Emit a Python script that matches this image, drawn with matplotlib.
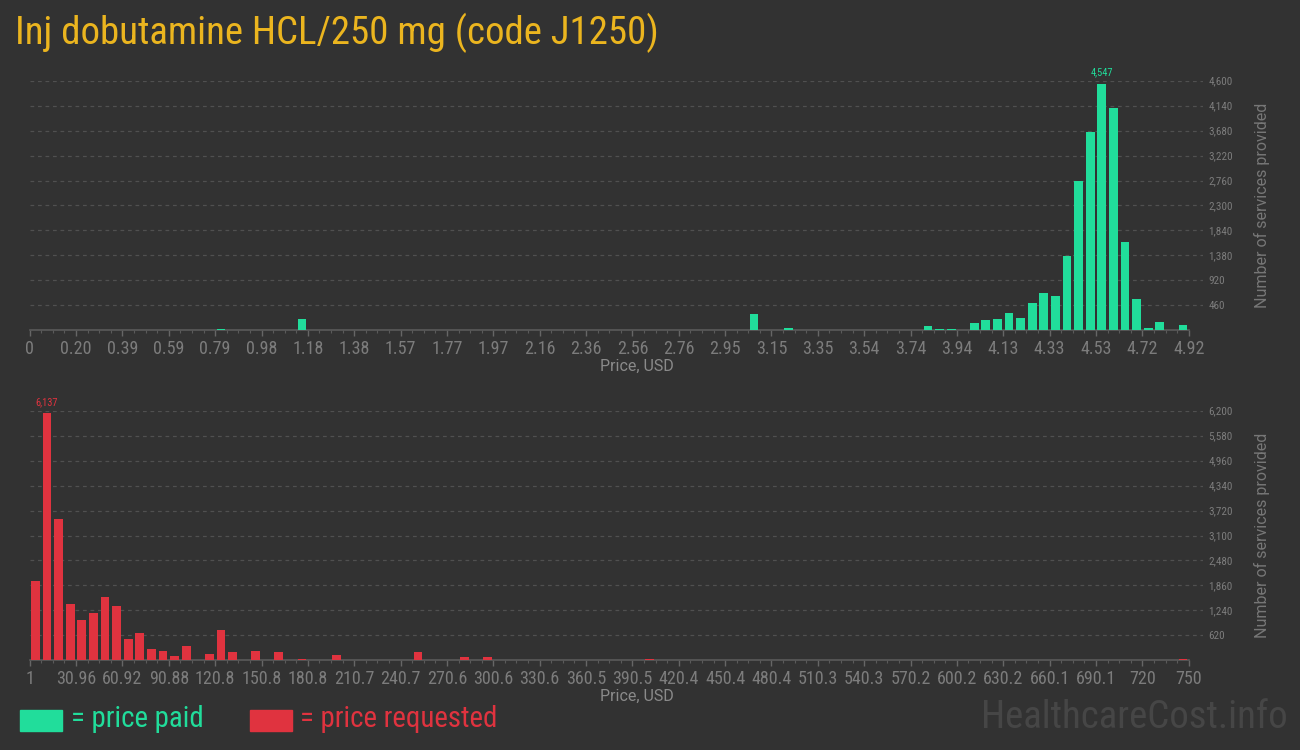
import numpy as np
import matplotlib
matplotlib.use("Agg")
import matplotlib.pyplot as plt
from matplotlib.patches import Rectangle
from matplotlib import font_manager

# ---------------- data ----------------
title = "Inj dobutamine HCL/250 mg (code J1250)"
n_bins = 100

paid_range = (0.0, 4.92)
paid_bins = [16, 23, 62, 65, 66, 71, 73, 77, 78, 79, 81, 82, 83, 84, 85, 86, 87, 88,
             89, 90, 91, 92, 93, 94, 95, 96, 97, 99]
paid_counts = [25, 208, 307, 49, 12, 12, 12, 86, 31, 31, 138, 196, 215, 325, 233, 503,
               694, 638, 1375, 2757, 3660, 4547, 4100, 1633, 583, 49, 160, 104]
paid_xlabels = ["0", "0.20", "0.39", "0.59", "0.79", "0.98", "1.18", "1.38", "1.57",
                "1.77", "1.97", "2.16", "2.36", "2.56", "2.76", "2.95", "3.15", "3.35",
                "3.54", "3.74", "3.94", "4.13", "4.33", "4.53", "4.72", "4.92"]
paid_yticks = [460, 920, 1380, 1840, 2300, 2760, 3220, 3680, 4140, 4600]

req_range = (1.0, 750.0)
req_bins = [0, 1, 2, 3, 4, 5, 6, 7, 8, 9, 10, 11, 12, 13, 14, 15, 16, 17, 19, 21, 23,
            25, 26, 33, 37, 39, 41, 48, 53, 57, 99]
req_counts = [1970, 6137, 3511, 1399, 1002, 1176, 1573, 1350, 530, 679, 282, 232, 108,
              356, 15, 157, 753, 207, 232, 207, 33, 12, 132, 215, 91, 91, 17, 17, 41,
              17, 41]
req_xlabels = ["1", "30.96", "60.92", "90.88", "120.8", "150.8", "180.8", "210.7",
               "240.7", "270.6", "300.6", "330.6", "360.5", "390.5", "420.4", "450.4",
               "480.4", "510.3", "540.3", "570.2", "600.2", "630.2", "660.1", "690.1",
               "720", "750"]
req_yticks = [620, 1240, 1860, 2480, 3100, 3720, 4340, 4960, 5580, 6200]

# ---------------- style ----------------
BG = "#323232"
GREEN = "#21dd9b"
RED = "#e0333f"
TXT = "#7c7c7c"
GRID = "#505050"

installed = {f.name for f in font_manager.fontManager.ttflist}
NARROW_FAMILY = next((n for n in ["Roboto Condensed", "Liberation Sans Narrow",
                                  "Open Sans Condensed", "Roboto"] if n in installed),
                     "DejaVu Sans")
NARROW = [NARROW_FAMILY, "DejaVu Sans"]
IS_COND = NARROW_FAMILY != "Roboto"

fig = plt.figure(figsize=(13, 7.5), dpi=100, facecolor=BG)

W, H = 1300.0, 750.0
left_px, right_px = 29.7, 1203.0
data_right_px = 1188.7


def make_panel(y_top_px, y_base_px, rng, bins, counts, xlabels, yticks, color):
    ax = fig.add_axes([left_px / W, 1 - y_base_px / H,
                       (right_px - left_px) / W, (y_base_px - y_top_px) / H])
    ax.set_facecolor(BG)
    lo, hi = rng
    w = (hi - lo) / n_bins
    extra = (hi - lo) * (right_px - data_right_px) / (data_right_px - left_px)
    ax.set_xlim(lo, hi + extra)
    ax.set_ylim(0, yticks[-1])
    centers = [lo + (b + 0.5) * w for b in bins]
    ax.bar(centers, counts, width=w * 0.76, color=color, zorder=3)
    # peak label
    k = int(np.argmax(counts))
    ax.text(centers[k], counts[k] + yticks[-1] * 0.025, f"{counts[k]:,}",
            ha="center", va="bottom", color=color, fontsize=7.5,
            family=NARROW, clip_on=False)
    # grid
    for yv in yticks:
        ax.axhline(yv, color=GRID, lw=0.9, ls=(0, (3, 3)), zorder=1)
    # spines
    for s in ["top", "right", "left"]:
        ax.spines[s].set_visible(False)
    ax.spines["bottom"].set_color("#5a5a5a")
    ax.spines["bottom"].set_linewidth(1.2)
    ax.spines["bottom"].set_bounds(lo, hi)
    # x ticks
    ax.set_xticks(np.linspace(lo, hi, len(xlabels)))
    ax.set_xticklabels(xlabels)
    ax.set_xticks(np.linspace(lo, hi, n_bins + 1), minor=True)
    ax.tick_params(axis="x", which="major", length=4, width=1, color="#666666",
                   labelcolor=TXT, labelsize=13 if IS_COND else 11, pad=3)
    ax.tick_params(axis="x", which="minor", length=2.5, width=0.8, color="#5a5a5a")
    for lab in ax.get_xticklabels():
        lab.set_family(NARROW)
    # y ticks on right
    ax.yaxis.tick_right()
    ax.set_yticks(yticks)
    ax.set_yticklabels([f"{v:,}" for v in yticks])
    ax.tick_params(axis="y", length=0, labelcolor=TXT, labelsize=8, pad=4)
    for lab in ax.get_yticklabels():
        lab.set_family(NARROW)
    ax.yaxis.set_label_position("right")
    ax.set_ylabel("Number of services provided", color="#777777", fontsize=11.5,
                  family="Roboto", labelpad=15)
    ax.set_xlabel("Price, USD", color="#8a8a8a", fontsize=11.5, family="Roboto",
                  labelpad=6)
    ax.xaxis.set_label_coords(((637 - left_px) / (right_px - left_px)), -0.115)
    return ax


ax1 = make_panel(80.7, 330.3, paid_range, paid_bins, paid_counts, paid_xlabels,
                 paid_yticks, GREEN)
ax2 = make_panel(410.7, 660.3, req_range, req_bins, req_counts, req_xlabels,
                 req_yticks, RED)

# title
fig.text(15 / W, 1 - 33 / H, title, color="#ebb51f",
         fontsize=28 if IS_COND else 25,
         family=NARROW, ha="left", va="center")

# legend
LEG_FS = 20.8 if IS_COND else 18.5
fig.patches.append(Rectangle((20 / W, 1 - 731 / H), 42 / W, 21 / H,
                             transform=fig.transFigure, color=GREEN))
fig.text(71 / W, 1 - 719 / H, "= price paid", color=GREEN, fontsize=LEG_FS,
         family=NARROW, ha="left", va="center")
fig.patches.append(Rectangle((250 / W, 1 - 731 / H), 42 / W, 21 / H,
                             transform=fig.transFigure, color=RED))
fig.text(300 / W, 1 - 719 / H, "= price requested", color=RED, fontsize=LEG_FS,
         family=NARROW, ha="left", va="center")

# watermark
fig.text(1288 / W, 1 - 718 / H, "HealthcareCost.info", color="#464646",
         fontsize=28 if IS_COND else 25.5,
         family=NARROW, ha="right", va="center")

fig.savefig("out.png", dpi=100, facecolor=BG)
